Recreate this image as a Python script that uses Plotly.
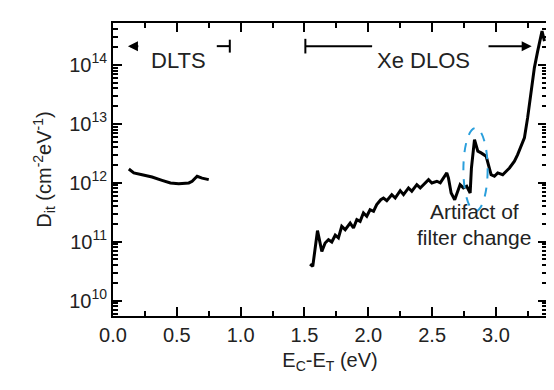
import math
import plotly.graph_objects as go

# ---------------- data ----------------
dlts_x = [0.124, 0.163, 0.228, 0.306, 0.384, 0.450, 0.515, 0.594, 0.620, 0.659, 0.698, 0.750]
dlts_y = [1.71e12, 1.47e12, 1.37e12, 1.25e12, 1.10e12, 9.93e11, 9.66e11, 9.93e11, 1.06e12,
          1.29e12, 1.20e12, 1.13e12]

dlos_x = [1.544, 1.565, 1.602, 1.636, 1.662, 1.688, 1.714, 1.741, 1.766, 1.792, 1.819, 1.858,
          1.884, 1.910, 1.936, 1.962, 1.988, 2.014, 2.041, 2.066, 2.098, 2.119, 2.145, 2.184,
          2.211, 2.250, 2.276, 2.315, 2.341, 2.380, 2.407, 2.446, 2.472, 2.498, 2.537, 2.564,
          2.615, 2.628, 2.649, 2.677, 2.719, 2.745, 2.771, 2.798, 2.808, 2.832, 2.858, 2.884,
          2.923, 2.962, 2.988, 3.014, 3.053, 3.106, 3.145, 3.170, 3.223, 3.248, 3.274, 3.301,
          3.327, 3.353, 3.361, 3.380]
dlos_y = [4.18e10, 3.82e10, 1.54e11, 6.87e10, 9.5e10, 1.08e11, 9.9e10, 1.29e11, 1.16e11, 1.82e11,
          1.60e11, 2.07e11, 1.71e11, 2.37e11, 2.22e11, 3.07e11, 2.70e11, 3.49e11, 3.28e11, 4.25e11,
          5.16e11, 5.52e11, 4.97e11, 6.28e11, 5.52e11, 7.35e11, 6.28e11, 8.17e11, 7.18e11, 9.29e11,
          8.17e11, 9.93e11, 1.13e12, 9.93e11, 1.06e12, 9.93e11, 1.47e12, 1.20e12, 6.71e11, 5.16e11,
          9.29e11, 8.17e11, 8.73e11, 6.71e11, 1.78e12, 5.40e12, 3.43e12, 3.21e12, 2.82e12, 1.37e12,
          1.29e12, 1.47e12, 1.37e12, 1.78e12, 2.32e12, 3.00e12, 5.77e12, 1.26e13, 3.57e13, 8.89e13,
          1.71e14, 3.27e14, 3.73e14, 2.52e14]

x_ticks = [0.0, 0.5, 1.0, 1.5, 2.0, 2.5, 3.0]
y_ticks = [1e10, 1e11, 1e12, 1e13, 1e14]
y_ticktext = ["10<sup>10</sup>", "10<sup>11</sup>", "10<sup>12</sup>", "10<sup>13</sup>", "10<sup>14</sup>"]
y_minor = [k * 10 ** e for e in range(9, 15) for k in range(2, 10)]

x_range = [0, 3.4]
y_log_range = [9.74, 14.71]

# annotation anchors (eV)
dlts_arrow = [0.21, 0.117]
dlts_label_x = 0.516
dlts_bar = [0.813, 0.915]
dlos_bar = [1.507, 2.03]
dlos_label_x = 2.43
dlos_arrow = [2.93, 3.28]
ellipse_x = [2.745, 2.935]
ellipse_y = [3.3e11, 8.5e12]
artifact_x = 2.83
artifact_y = [1.9e11, 6.9e10]

FONT = "Arial, Liberation Sans, sans-serif"
TXT = "#222222"


def ypaper(v):
    return (math.log10(v) - y_log_range[0]) / (y_log_range[1] - y_log_range[0])


fig = go.Figure()
fig.add_trace(go.Scatter(x=dlts_x, y=dlts_y, mode="lines",
                         line=dict(color="black", width=3), showlegend=False))
fig.add_trace(go.Scatter(x=dlos_x, y=dlos_y, mode="lines",
                         line=dict(color="black", width=3), showlegend=False))

top_y = 0.921
shapes = [
    dict(type="circle", xref="x", yref="paper",
         x0=ellipse_x[0], x1=ellipse_x[1], y0=ypaper(ellipse_y[0]), y1=ypaper(ellipse_y[1]),
         line=dict(color="#2a9fdc", width=2, dash="dash")),
    # DLTS end bar
    dict(type="line", xref="x", yref="paper", x0=dlts_bar[0], x1=dlts_bar[1], y0=top_y, y1=top_y,
         line=dict(color="black", width=2)),
    dict(type="line", xref="x", yref="paper", x0=dlts_bar[1], x1=dlts_bar[1], y0=top_y - 0.022,
         y1=top_y + 0.022, line=dict(color="black", width=2)),
    # DLOS start bar
    dict(type="line", xref="x", yref="paper", x0=dlos_bar[0], x1=dlos_bar[1], y0=top_y, y1=top_y,
         line=dict(color="black", width=2)),
    dict(type="line", xref="x", yref="paper", x0=dlos_bar[0], x1=dlos_bar[0], y0=top_y - 0.025,
         y1=top_y + 0.025, line=dict(color="black", width=2)),
]

annotations = [
    dict(x=dlts_arrow[1], y=top_y, xref="x", yref="paper", ax=dlts_arrow[0], ay=0,
         axref="x", ayref="pixel", showarrow=True, arrowhead=2, arrowsize=1, arrowwidth=2,
         arrowcolor="black", text=""),
    dict(x=dlts_label_x, y=top_y, xref="x", yref="paper", text="DLTS", showarrow=False,
         font=dict(family=FONT, size=22, color=TXT)),
    dict(x=dlos_label_x, y=top_y, xref="x", yref="paper", text="Xe DLOS", showarrow=False,
         font=dict(family=FONT, size=22, color=TXT)),
    dict(x=dlos_arrow[1], y=top_y, xref="x", yref="paper", ax=dlos_arrow[0], ay=0,
         axref="x", ayref="pixel", showarrow=True, arrowhead=2, arrowsize=1, arrowwidth=2,
         arrowcolor="black", text=""),
    dict(x=artifact_x, y=ypaper(artifact_y[0]), xref="x", yref="paper", text="Artifact of",
         showarrow=False, font=dict(family=FONT, size=21, color=TXT)),
    dict(x=artifact_x, y=ypaper(artifact_y[1]), xref="x", yref="paper", text="filter change",
         showarrow=False, font=dict(family=FONT, size=21, color=TXT)),
]

axis_common = dict(showline=True, linecolor="black", linewidth=2, mirror="allticks",
                   ticks="inside", ticklen=9, tickwidth=2, tickcolor="black",
                   showgrid=False, zeroline=False, automargin=False,
                   tickfont=dict(family=FONT, size=20, color=TXT))

fig.update_xaxes(range=x_range, tickvals=x_ticks, tickformat=".1f",
                 minor=dict(dtick=0.25, ticks="inside", ticklen=5, tickwidth=2,
                            tickcolor="black", showgrid=False),
                 title=dict(text="E<sub>C</sub>-E<sub>T</sub> (eV)",
                            font=dict(family=FONT, size=20, color=TXT), standoff=8),
                 **axis_common)
fig.update_yaxes(type="log", range=y_log_range, tickvals=y_ticks, ticktext=y_ticktext,
                 minor=dict(tickvals=y_minor, ticks="inside", ticklen=5, tickwidth=2,
                            tickcolor="black", showgrid=False),
                 title=dict(text="D<sub>it</sub> (cm<sup>-2</sup>eV<sup>-1</sup>)",
                            font=dict(family=FONT, size=20, color=TXT), standoff=12),
                 **axis_common)

fig.update_layout(width=554, height=390, margin=dict(l=105, r=15, t=15, b=82),
                  plot_bgcolor="white", paper_bgcolor="white",
                  shapes=shapes, annotations=annotations, showlegend=False)

fig.write_html("out.html")
